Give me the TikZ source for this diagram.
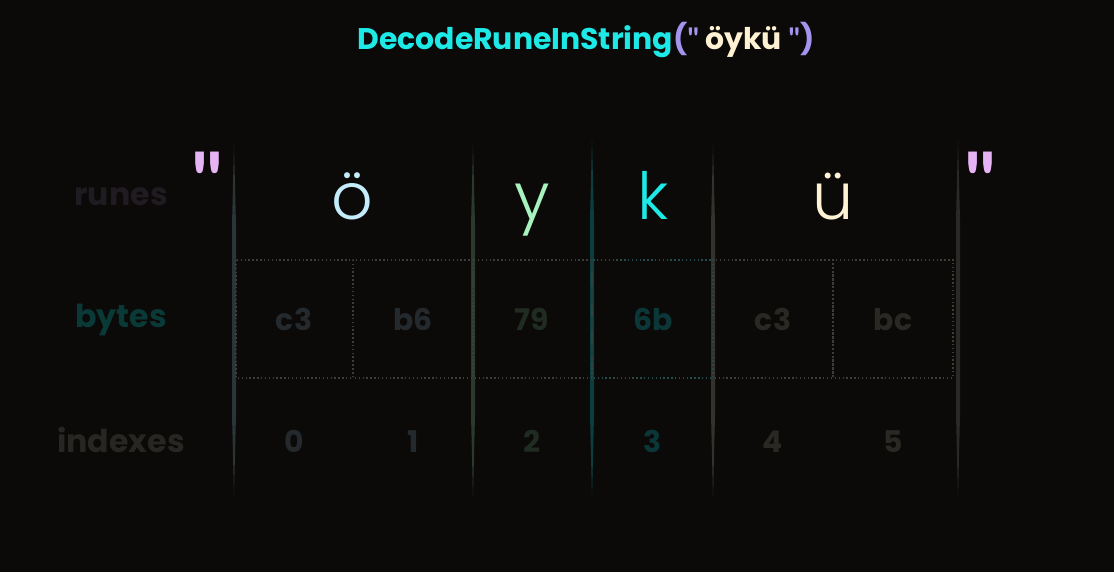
\documentclass[tikz,border=0pt]{standalone}
\usepackage{fontspec}
\setmainfont{Poppins}
\newfontfamily\quotefont{Lato}
\IfFontExistsTF{Poppins Light}{\newfontfamily\runefont{Poppins Light}}{\newfontfamily\runefont{Poppins}}
\definecolor{bgcol}{HTML}{0B0A09}
\definecolor{titlecyan}{HTML}{1DE9E6}
\definecolor{parencol}{HTML}{A394EE}
\definecolor{creamcol}{HTML}{FFF2D2}
\definecolor{quotecol}{HTML}{E6B3F5}
\definecolor{runeo}{HTML}{C4ECFA}
\definecolor{runey}{HTML}{A8F2BE}
\definecolor{runek}{HTML}{1DE9E6}
\definecolor{runeu}{HTML}{FFF3D4}
\definecolor{lblrunes}{HTML}{1F1B20}
\definecolor{lblbytes}{HTML}{0A3A37}
\definecolor{lblindex}{HTML}{272622}
\definecolor{greyblue}{HTML}{23292C}
\definecolor{greygreen}{HTML}{202B21}
\definecolor{darkteal}{HTML}{0B3738}
\definecolor{greybrown}{HTML}{292823}
\definecolor{sepa}{HTML}{2B3436}
\definecolor{sepb}{HTML}{2A3A2C}
\definecolor{sepc}{HTML}{0C3D3F}
\definecolor{sepd}{HTML}{34322C}
\definecolor{sepe}{HTML}{2A2925}
\begin{document}
\begin{tikzpicture}[x=0.02cm, y=-0.02cm,
  titletext/.style={font=\bfseries\fontsize{17}{17}\selectfont, anchor=base},
  rowlabel/.style={font=\bfseries\fontsize{18}{18}\selectfont, anchor=base},
  cellnum/.style={font=\bfseries\fontsize{17}{17}\selectfont, anchor=base},
  rune/.style={font=\runefont\fontsize{37}{37}\selectfont, anchor=base},
  bigquote/.style={font=\quotefont\bfseries\fontsize{46}{46}\selectfont, text=quotecol, anchor=base},
  bytebox/.style={line width=0.8pt, dash pattern=on 0.8pt off 1.4pt}]
  \useasboundingbox (0,0) rectangle (1114,572);
  \fill[bgcol] (0,0) rectangle (1114,572);
  \node[titletext] (title) at (586,49)
    {\color{titlecyan}DecodeRuneInString\color{parencol}({\quotefont"} \color{creamcol}öykü \color{parencol}{\quotefont"})};
  \fill[sepa] (234,145) -- (236,225) -- (236,415) -- (234,495) -- (232,415) -- (232,225) -- cycle;
  \fill[sepb] (473,145) -- (475,225) -- (475,415) -- (473,497) -- (471,415) -- (471,225) -- cycle;
  \fill[sepc] (592,140) -- (594,220) -- (594,415) -- (592,498) -- (590,415) -- (590,220) -- cycle;
  \fill[sepd] (713,145) -- (715,225) -- (715,415) -- (713,497) -- (711,415) -- (711,225) -- cycle;
  \fill[sepe] (958,140) -- (960,220) -- (960,415) -- (958,498) -- (956,415) -- (956,220) -- cycle;
  \draw[bytebox, greyblue!85!white!85!black] (236,260) rectangle (353,378);
  \draw[bytebox, greyblue!85!white!85!black] (353,260) rectangle (473,378);
  \draw[bytebox, greygreen!85!white!85!black] (473,260) rectangle (592,378);
  \draw[bytebox, greybrown!85!white!85!black] (713,260) rectangle (833,378);
  \draw[bytebox, greybrown!85!white!85!black] (833,260) rectangle (953,378);
  \draw[bytebox, darkteal!90!white] (592,260) rectangle (713,378);
  \node[bigquote] (qopen) at (207,210) {"};
  \node[bigquote] (qclose) at (980,210) {"};
  \node[rowlabel, text=lblrunes] (runes) at (121,205) {runes};
  \node[rowlabel, text=lblbytes] (bytes) at (121,327) {bytes};
  \node[rowlabel, text=lblindex] (indexes) at (121,452) {indexes};
  \node[rune, text=runeo] (runeo) at (352,219) {ö};
  \node[rune, text=runey] (runey) at (532,219) {y};
  \node[rune, text=runek] (runek) at (653,219) {k};
  \node[rune, text=runeu] (runeu) at (833,219) {ü};
  \node[cellnum, text=greyblue] (byte0) at (294,330) {c3};
  \node[cellnum, text=greyblue] (byte1) at (413,330) {b6};
  \node[cellnum, text=greygreen] (byte2) at (532,330) {79};
  \node[cellnum, text=darkteal] (byte3) at (653,330) {6b};
  \node[cellnum, text=greybrown] (byte4) at (773,330) {c3};
  \node[cellnum, text=greybrown] (byte5) at (893,330) {bc};
  \node[cellnum, text=greyblue] (idx0) at (294,452) {0};
  \node[cellnum, text=greyblue] (idx1) at (413,452) {1};
  \node[cellnum, text=greygreen] (idx2) at (532,452) {2};
  \node[cellnum, text=darkteal] (idx3) at (653,452) {3};
  \node[cellnum, text=greybrown] (idx4) at (773,452) {4};
  \node[cellnum, text=greybrown] (idx5) at (893,452) {5};
\end{tikzpicture}
\end{document}
